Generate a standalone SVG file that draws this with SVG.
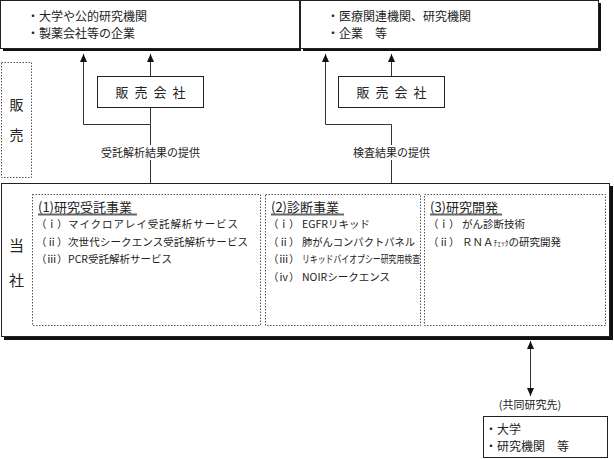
<svg xmlns="http://www.w3.org/2000/svg" width="614" height="459" viewBox="0 0 614 459">
<style>
text{font-family:"Noto Sans CJK JP","Noto Sans",sans-serif;fill:#222}
.box{fill:#fff;stroke:#222;stroke-width:1}
.shadow{fill:#111}
.dot{fill:none;stroke:#555;stroke-width:1;stroke-dasharray:1.5 1.5}
.t12{font-size:12px}
.t11{font-size:11px}
.t10{font-size:10.5px}
.title{font-size:13px}
.ul{stroke:#666;stroke-width:2}
.line{fill:none;stroke:#333;stroke-width:1}
</style>
<defs>
<marker id="ah" viewBox="0 0 8 8" refX="8" refY="4" markerWidth="8" markerHeight="8" orient="auto-start-reverse" markerUnits="userSpaceOnUse">
<path d="M0,0.5 L8,4 L0,7.5 Z" fill="#111"/>
</marker>
</defs>

<g id="top-left">
<rect class="shadow" x="3" y="3" width="298" height="48"/>
<rect class="box" x="0.5" y="0.5" width="299" height="48"/>
<text class="t12" x="27" y="21">・大学や公的研究機関</text>
<text class="t12" x="27" y="38">・製薬会社等の企業</text>
</g>

<g id="top-right">
<rect class="shadow" x="303" y="3" width="298" height="48"/>
<rect class="box" x="300.5" y="0.5" width="298" height="48"/>
<text class="t12" x="327" y="21">・医療関連機関、研究機関</text>
<text class="t12" x="327" y="38">・企業　等</text>
</g>

<g id="sales-label">
<rect class="dot" x="1.5" y="62.5" width="30" height="115"/>
<text x="16.5" y="110" text-anchor="middle" font-size="14">販</text>
<text x="16.5" y="140" text-anchor="middle" font-size="14">売</text>
</g>

<g id="sales-left">
<rect class="box" x="97.5" y="76.5" width="106" height="31"/>
<text class="title" x="153.5" y="97" text-anchor="middle" letter-spacing="6">販売会社</text>
</g>

<g id="sales-right">
<rect class="box" x="338.5" y="76.5" width="106" height="31"/>
<text class="title" x="394.5" y="97" text-anchor="middle" letter-spacing="6">販売会社</text>
</g>

<g id="company">
<rect class="shadow" x="4" y="186" width="609" height="154"/>
<rect class="box" x="1.5" y="183.5" width="608" height="153"/>
<text x="16.5" y="251" text-anchor="middle" font-size="15">当</text>
<text x="16.5" y="286" text-anchor="middle" font-size="15">社</text>
</g>

<g id="biz1">
<rect class="dot" x="32.5" y="194.5" width="228" height="131"/>
<text class="title" x="38" y="212">(1)研究受託事業</text>
<line class="ul" x1="38" y1="214.5" x2="137" y2="214.5"/>
<text class="t10" x="36" y="228">（ｉ）</text>
<text class="t10" x="68" y="228" textLength="170" lengthAdjust="spacing">マイクロアレイ受託解析サービス</text>
<text class="t10" x="36" y="246">（ⅱ）</text>
<text class="t10" x="68" y="246" textLength="180" lengthAdjust="spacing">次世代シークエンス受託解析サービス</text>
<text class="t10" x="36" y="263">（ⅲ）</text>
<text class="t10" x="68" y="263">PCR受託解析サービス</text>
</g>

<g id="biz2">
<rect class="dot" x="265.5" y="194.5" width="155" height="131"/>
<text class="title" x="271" y="212">(2)診断事業</text>
<line class="ul" x1="271" y1="214.5" x2="344" y2="214.5"/>
<text class="t10" x="268" y="228">（ｉ）</text>
<text class="t10" x="302" y="228">EGFRリキッド</text>
<text class="t10" x="268" y="246">（ⅱ）</text>
<text class="t10" x="302" y="246" textLength="113" lengthAdjust="spacingAndGlyphs">肺がんコンパクトパネル</text>
<text class="t10" x="268" y="263">（ⅲ）</text>
<text class="t10" x="302" y="263" textLength="118" lengthAdjust="spacingAndGlyphs">リキッドバイオプシー研究用検査</text>
<text class="t10" x="268" y="281">（ⅳ）</text>
<text class="t10" x="302" y="281">NOIRシークエンス</text>
</g>

<g id="biz3">
<rect class="dot" x="424.5" y="194.5" width="181" height="131"/>
<text class="title" x="430" y="212">(3)研究開発</text>
<line class="ul" x1="430" y1="214.5" x2="502" y2="214.5"/>
<text class="t10" x="428" y="228">（ｉ）</text>
<text class="t10" x="462" y="228">がん診断技術</text>
<text class="t10" x="428" y="246">（ⅱ）</text>
<text class="t10" x="462" y="246">ＲＮＡ<tspan font-size="7.5">ﾁｪｯｸ</tspan>の研究開発</text>
</g>

<g id="partner">
<text class="t11" x="530" y="409" text-anchor="middle">(共同研究先)</text>
<rect class="box" x="483.5" y="416.5" width="124" height="41"/>
<text class="t12" x="485" y="434">・大学</text>
<text class="t12" x="485" y="451">・研究機関　等</text>
</g>

<g id="connectors">
<polyline class="line" points="150.5,76 150.5,54" marker-end="url(#ah)"/>
<polyline class="line" points="150.5,183 150.5,124.5 83.5,124.5 83.5,54" marker-end="url(#ah)"/>
<line class="line" x1="150.5" y1="108" x2="150.5" y2="124.5"/>
<polyline class="line" points="391.5,76 391.5,54" marker-end="url(#ah)"/>
<polyline class="line" points="391.5,183 391.5,124.5 325.5,124.5 325.5,54" marker-end="url(#ah)"/>
<line class="line" x1="530.5" y1="341" x2="530.5" y2="396" marker-start="url(#ah)" marker-end="url(#ah)"/>
<rect x="100" y="145" width="102" height="15" fill="#fff"/>
<text class="t11" x="150.5" y="157" text-anchor="middle">受託解析結果の提供</text>
<rect x="352" y="145" width="79" height="15" fill="#fff"/>
<text class="t11" x="391.5" y="157" text-anchor="middle">検査結果の提供</text>
</g>
</svg>
